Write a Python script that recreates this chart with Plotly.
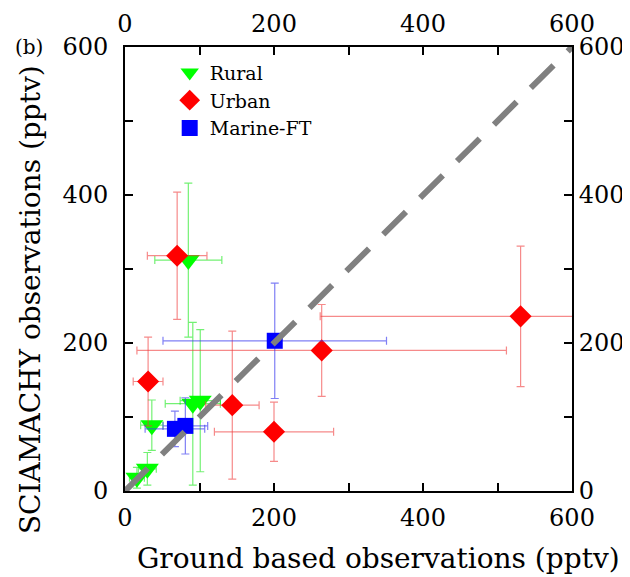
import plotly.graph_objects as go

# Rural sites
rural_x = [16, 30, 36, 91, 101, 85]
rural_y = [18, 30, 89, 118, 122, 312]
rural_ex = [10, 12, 15, 37, 27, 45]
rural_ey = [14, 22, 34, 110, 96, 104]

# Urban sites
urban_x = [31, 70, 144, 200, 264, 531]
urban_y = [148, 318, 116, 80, 190, 236]
urban_ex = [20, 40, 36, 80, 248, 269]
urban_ey = [60, 86, 100, 40, 62, 95]

# Marine / free troposphere sites
marine_x = [67, 81, 201]
marine_y = [84, 88, 203]
marine_ex = [40, 30, 150]
marine_ey = [24, 38, 78]

one_to_one = [0, 600]
tick_vals = [0, 200, 400, 600]
tick_text = ["0", "200", "400", "600"]

FONT = "DejaVu Serif"

fig = go.Figure()

fig.add_trace(go.Scatter(
    x=rural_x, y=rural_y, mode="markers", name="Rural",
    marker=dict(symbol="triangle-down", size=20, color="#00ff00"),
    error_x=dict(type="data", array=rural_ex, color="rgba(0,230,0,0.55)", thickness=1.2, width=4),
    error_y=dict(type="data", array=rural_ey, color="rgba(0,230,0,0.55)", thickness=1.2, width=4),
))
fig.add_trace(go.Scatter(
    x=urban_x, y=urban_y, mode="markers", name="Urban",
    marker=dict(symbol="diamond", size=17, color="#ff0000"),
    error_x=dict(type="data", array=urban_ex, color="rgba(240,60,60,0.6)", thickness=1.2, width=4),
    error_y=dict(type="data", array=urban_ey, color="rgba(240,60,60,0.6)", thickness=1.2, width=4),
))
fig.add_trace(go.Scatter(
    x=marine_x, y=marine_y, mode="markers", name="Marine-FT",
    marker=dict(symbol="square", size=16, color="#0000ff"),
    error_x=dict(type="data", array=marine_ex, color="rgba(60,60,240,0.65)", thickness=1.2, width=4),
    error_y=dict(type="data", array=marine_ey, color="rgba(60,60,240,0.65)", thickness=1.2, width=4),
))
fig.add_trace(go.Scatter(
    x=one_to_one, y=one_to_one, mode="lines", showlegend=False,
    line=dict(color="#808080", width=6, dash="32px,20px"),
))
# invisible trace for the mirrored top/right axes
fig.add_trace(go.Scatter(
    x=one_to_one, y=one_to_one, xaxis="x2", yaxis="y2", mode="markers",
    marker=dict(opacity=0), showlegend=False, hoverinfo="skip",
))

axis_common = dict(
    range=[0, 600], tickvals=tick_vals, ticktext=tick_text,
    ticks="inside", ticklen=8, tickwidth=1.5, tickcolor="black",
    showline=True, linecolor="black", linewidth=2,
    showgrid=False, zeroline=False, automargin=False,
    tickfont=dict(family=FONT, size=24, color="black"),
    minor=dict(ticks="inside", ticklen=8, tickwidth=1.5, tickcolor="black", dtick=100, showgrid=False),
)

# the page adds an 8px body margin, so the figure is made 8px smaller
fig.update_layout(
    width=622, height=569,
    margin=dict(l=117, r=58, t=39, b=86),
    paper_bgcolor="white", plot_bgcolor="white",
    font=dict(family=FONT, color="black"),
    xaxis=dict(**axis_common, ticklabelstandoff=4),
    yaxis=dict(**axis_common, ticklabelstandoff=10),
    xaxis2=dict(**axis_common, overlaying="x", side="top", anchor="y", ticklabelstandoff=3),
    yaxis2=dict(**axis_common, overlaying="y", side="right", anchor="x"),
    legend=dict(x=0.1, y=0.985, xanchor="left", yanchor="top",
                font=dict(family=FONT, size=19), bgcolor="rgba(0,0,0,0)",
                tracegroupgap=0),
    showlegend=True,
    annotations=[
        dict(text="(b)", x=-112 / 447, y=1.0, xref="paper", yref="paper",
             xanchor="left", yanchor="middle", showarrow=False,
             font=dict(family=FONT, size=20)),
        dict(text="Ground based observations (pptv)", x=253 / 447, y=-67 / 444,
             xref="paper", yref="paper", xanchor="center", yanchor="middle",
             showarrow=False, font=dict(family=FONT, size=28)),
        dict(text="SCIAMACHY observations (pptv)", x=-95 / 447, y=0.43,
             xref="paper", yref="paper", xanchor="center", yanchor="middle",
             textangle=-90, showarrow=False, font=dict(family=FONT, size=28)),
    ],
)

fig.write_html("out.html")
